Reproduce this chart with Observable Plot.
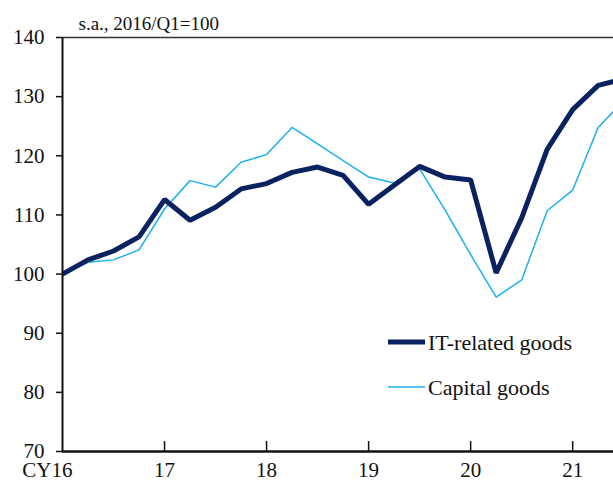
<!DOCTYPE html>
<html>
<head>
<meta charset="utf-8">
<script src="https://cdn.jsdelivr.net/npm/d3@7"></script>
<script src="https://cdn.jsdelivr.net/npm/@observablehq/plot@0.6"></script>
<style>
  html, body { margin: 0; padding: 0; background: #fff; }
  #wrap { position: relative; width: 613px; height: 485px; overflow: hidden; }
  #legend { position: absolute; left: 0; top: 0; }
</style>
</head>
<body>
<div id="wrap"></div>
<script>
const quarters = ["2016Q1","2016Q2","2016Q3","2016Q4","2017Q1","2017Q2","2017Q3","2017Q4",
  "2018Q1","2018Q2","2018Q3","2018Q4","2019Q1","2019Q2","2019Q3","2019Q4",
  "2020Q1","2020Q2","2020Q3","2020Q4","2021Q1","2021Q2","2021Q3"];
const itGoods = [100, 102.4, 103.9, 106.3, 112.6, 109.1, 111.3, 114.4, 115.3, 117.2, 118.1, 116.7,
  111.8, 115.0, 118.2, 116.4, 115.9, 100.2, 109.5, 121.1, 127.8, 131.9, 133.0];
const capitalGoods = [100, 102.0, 102.4, 104.1, 111.0, 115.8, 114.7, 118.9, 120.2, 124.8, 122.0, 119.2,
  116.4, 115.4, 117.8, 110.8, 103.3, 96.1, 99.0, 110.7, 114.2, 124.8, 129.3];
const yTicks = [70, 80, 90, 100, 110, 120, 130, 140];
const xTicks = [2016, 2017, 2018, 2019, 2020, 2021];
const xTickLabels = ["CY16", "17", "18", "19", "20", "21"];
const seriesNames = ["IT-related goods", "Capital goods"];
const subtitle = "s.a., 2016/Q1=100";

const FONT = "Liberation Serif";
const toYear = q => +q.slice(0, 4) + (+q.slice(5) - 1) / 4;
const rows = quarters.flatMap((q, i) => [
  {t: toYear(q), v: itGoods[i], s: seriesNames[0]},
  {t: toYear(q), v: capitalGoods[i], s: seriesNames[1]}
]);
const ticksTbl = xTicks.map((x, i) => ({x, label: xTickLabels[i]}));

const navy = "#0b2260", sky = "#1cb0ec";
const H = 485, mTop = 37, mBottom = 34;

const chart = Plot.plot({
  width: 613, height: H,
  marginLeft: 62, marginRight: 0, marginTop: mTop, marginBottom: mBottom,
  style: {fontFamily: FONT, fontSize: "21px", color: "#111", background: "#fff"},
  x: {type: "linear", domain: [2016, 2021.4], axis: null},
  y: {domain: [70, 140], axis: null},
  marks: [
    Plot.axisY({ticks: yTicks, tickSize: 6, tickPadding: 12, label: null, fontSize: 21, fontFamily: FONT, strokeWidth: 1.5}),
    Plot.ruleY([140], {stroke: "#333", strokeWidth: 1.5}),
    Plot.line(rows.filter(d => d.s === seriesNames[1]), {x: "t", y: "v", stroke: sky, strokeWidth: 1.5, clip: true}),
    Plot.line(rows.filter(d => d.s === seriesNames[0]), {x: "t", y: "v", stroke: navy, strokeWidth: 5, strokeLinejoin: "miter", clip: true}),
    Plot.tickX(xTicks.slice(1), {x: d => d, insetTop: H - mTop - mBottom - 10, stroke: "#111", strokeWidth: 1.5}),
    Plot.ruleX([2016], {stroke: "#111", strokeWidth: 2}),
    Plot.ruleY([70], {stroke: "#111", strokeWidth: 2.5}),
    Plot.text(ticksTbl.slice(0, 1), {x: "x", text: "label", frameAnchor: "bottom", textAnchor: "end", dx: 10, dy: 25, fontSize: 21, fontFamily: FONT, fill: "#111"}),
    Plot.text(ticksTbl.slice(1), {x: "x", text: "label", frameAnchor: "bottom", dy: 25, fontSize: 21, fontFamily: FONT, fill: "#111"}),
    Plot.text([subtitle], {frameAnchor: "top-left", dx: 16, dy: -8, textAnchor: "start", lineAnchor: "bottom", fontSize: 19, fontFamily: FONT, fill: "#111"})
  ]
});
d3.select(chart).attr("font-family", FONT).style("font-family", FONT);
d3.select(chart).selectAll("text").attr("font-family", FONT);
const wrap = document.getElementById("wrap");
wrap.appendChild(chart);

// legend overlay
const lg = d3.select(wrap).append("svg").attr("id", "legend")
  .attr("width", 613).attr("height", 485)
  .attr("font-family", FONT);
const items = [
  {name: seriesNames[0], color: navy, w: 5, y: 342},
  {name: seriesNames[1], color: sky, w: 1.5, y: 387}
];
items.forEach(it => {
  lg.append("line").attr("x1", 388).attr("x2", 425).attr("y1", it.y).attr("y2", it.y)
    .attr("stroke", it.color).attr("stroke-width", it.w);
  lg.append("text").attr("x", 428).attr("y", it.y + 7.5).attr("font-size", 22)
    .attr("font-family", FONT).attr("fill", "#111").text(it.name);
});
</script>
</body>
</html>
